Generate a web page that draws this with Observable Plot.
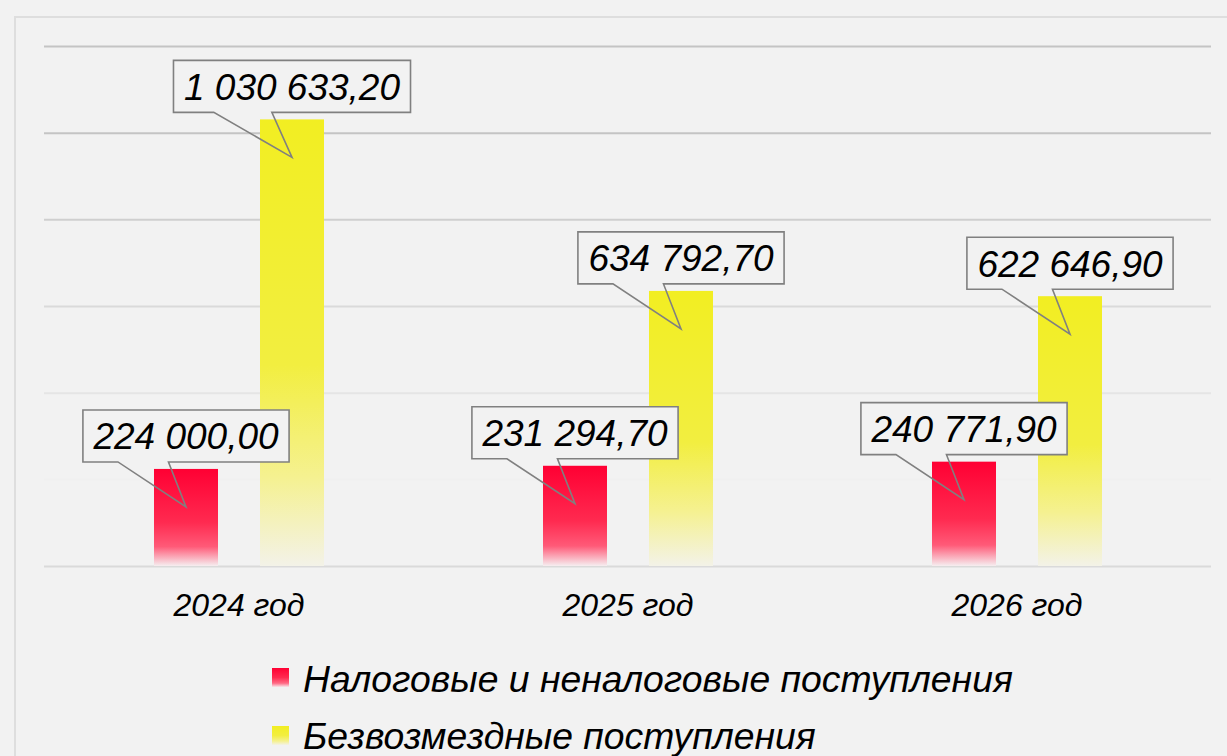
<!DOCTYPE html>
<html><head><meta charset="utf-8">
<script src="https://cdn.jsdelivr.net/npm/d3@7"></script>
<script src="https://cdn.jsdelivr.net/npm/@observablehq/plot@0.6"></script>
<style>
html,body{margin:0;padding:0;background:#f2f2f2;width:1227px;height:756px;overflow:hidden;font-family:"Liberation Sans",Arial,sans-serif;}
#frame{position:absolute;left:14px;top:16px;width:1400px;height:900px;border:2px solid #dedede;box-sizing:border-box}
#chart{position:absolute;left:0;top:0}
.leg{position:absolute;font-style:italic;font-size:37.3px;line-height:37px;color:#000;white-space:nowrap}
.sw{position:absolute;width:17px;height:19px}
</style></head><body>
<div id="frame"></div><div id="chart"></div><div id="legend"></div>
<script>
// ---- data ----
const years = ["2024 год", "2025 год", "2026 год"];
const seriesNames = ["Налоговые и неналоговые поступления", "Безвозмездные поступления"];
const taxRevenue = [224000.00, 231294.70, 240771.90];
const grants = [1030633.20, 634792.70, 622646.90];
const gridTicks = [0, 200000, 400000, 600000, 800000, 1000000, 1200000];

const rows = years.flatMap((y, i) => [
  {year: y, series: seriesNames[0], value: taxRevenue[i]},
  {year: y, series: seriesNames[1], value: grants[i]}
]);

const fmt = d3.formatLocale({decimal: ",", thousands: " ", grouping: [3], currency: ["", ""]}).format(",.2f");
const font = "'Liberation Sans', Arial, sans-serif";
const ctx = document.createElement("canvas").getContext("2d");
ctx.font = "italic 37px " + font;

const gridColor = d3.scaleLinear().domain([200000, 1000000]).range(["#f0f0f0", "#c4c4c4"]).clamp(true);
const gridMarks = gridTicks.map(t => Plot.ruleY([t], {stroke: t === 0 ? "#dadada" : gridColor(t), strokeWidth: 2}));

function calloutRender(index, scales) {
  const g = d3.create("svg:g");
  const bw = scales.x.bandwidth ? scales.x.bandwidth() : 0;
  for (const i of index) {
    const d = rows[i];
    const cx = scales.x(d.series) + bw / 2;
    const yb = scales.y(d.value) - 7;
    const label = fmt(d.value);
    const w = ctx.measureText(label).width + 21, h = 52;
    const l = cx - w / 2, t = yb - h;
    g.append("rect").attr("x", l).attr("y", t).attr("width", w).attr("height", h).attr("fill", "#f2f2f2");
    g.append("path")
      .attr("d", `M${l},${t}H${l + w}V${yb}H${cx - 0.085 * w}L${cx},${yb + 45}L${cx - 0.33 * w},${yb}H${l}Z`)
      .attr("fill", "none").attr("stroke", "#808080").attr("stroke-width", 1.6).attr("stroke-linejoin", "miter");
    g.append("text").attr("x", cx).attr("y", t + h / 2).attr("dy", "0.36em")
      .attr("text-anchor", "middle").attr("font-size", 37).attr("font-style", "italic")
      .attr("font-family", font).attr("fill", "#000").text(label);
  }
  return g.node();
}

const plot = Plot.plot({
  width: 1227, height: 640,
  marginLeft: 44, marginRight: 16, marginTop: 46, marginBottom: 74,
  style: {background: "transparent", fontFamily: font, fontSize: "32px", fontStyle: "italic", color: "#000", overflow: "visible"},
  fx: {domain: years, padding: 0, axis: "bottom", tickSize: 0, tickPadding: 27, label: null},
  x: {domain: seriesNames, paddingInner: 0.4, paddingOuter: 1.03, axis: null},
  y: {domain: [0, 1200000], axis: null},
  color: {domain: seriesNames, range: ["url(#gradRed)", "url(#gradYellow)"]},
  marks: [
    ...gridMarks,
    Plot.barY(rows, {fx: "year", x: "series", y: "value", fill: "series"}),
    Plot.text(rows, {fx: "year", x: "series", y: "value", text: d => fmt(d.value), render: calloutRender})
  ]
});

const svg = d3.select(plot.tagName.toLowerCase() === "svg" ? plot : plot.querySelector("svg"));
const defs = svg.insert("defs", ":first-child");
function grad(id, stops) {
  const lg = defs.append("linearGradient").attr("id", id).attr("x1", 0).attr("y1", 0).attr("x2", 0).attr("y2", 1);
  for (const [o, c] of stops) lg.append("stop").attr("offset", o).attr("stop-color", c);
}
grad("gradRed", [[0, "#ff0033"], [0.55, "#ff2a50"], [0.8, "#ff5a78"], [1, "#f6eef0"]]);
grad("gradYellow", [[0, "#f2ee22"], [0.55, "#f2ee40"], [0.8, "#f5f190"], [1, "#f3f2e8"]]);
document.getElementById("chart").appendChild(plot);

// legend
const legend = document.getElementById("legend");
const legCss = [
  "linear-gradient(to bottom, #ff0033 0%, #ff2a50 50%, #ff6a85 80%, #f8e6ea 100%)",
  "linear-gradient(to bottom, #f2ee22 0%, #f2ee40 50%, #f5f190 80%, #f3f2e8 100%)"
];
seriesNames.forEach((name, i) => {
  const sw = document.createElement("div");
  sw.className = "sw";
  sw.style.left = "272px"; sw.style.top = (668 + i * 58) + "px";
  sw.style.background = legCss[i];
  legend.appendChild(sw);
  const tx = document.createElement("div");
  tx.className = "leg";
  tx.style.left = "303px"; tx.style.top = (661 + i * 57) + "px";
  tx.textContent = name;
  legend.appendChild(tx);
});
</script>
</body></html>
